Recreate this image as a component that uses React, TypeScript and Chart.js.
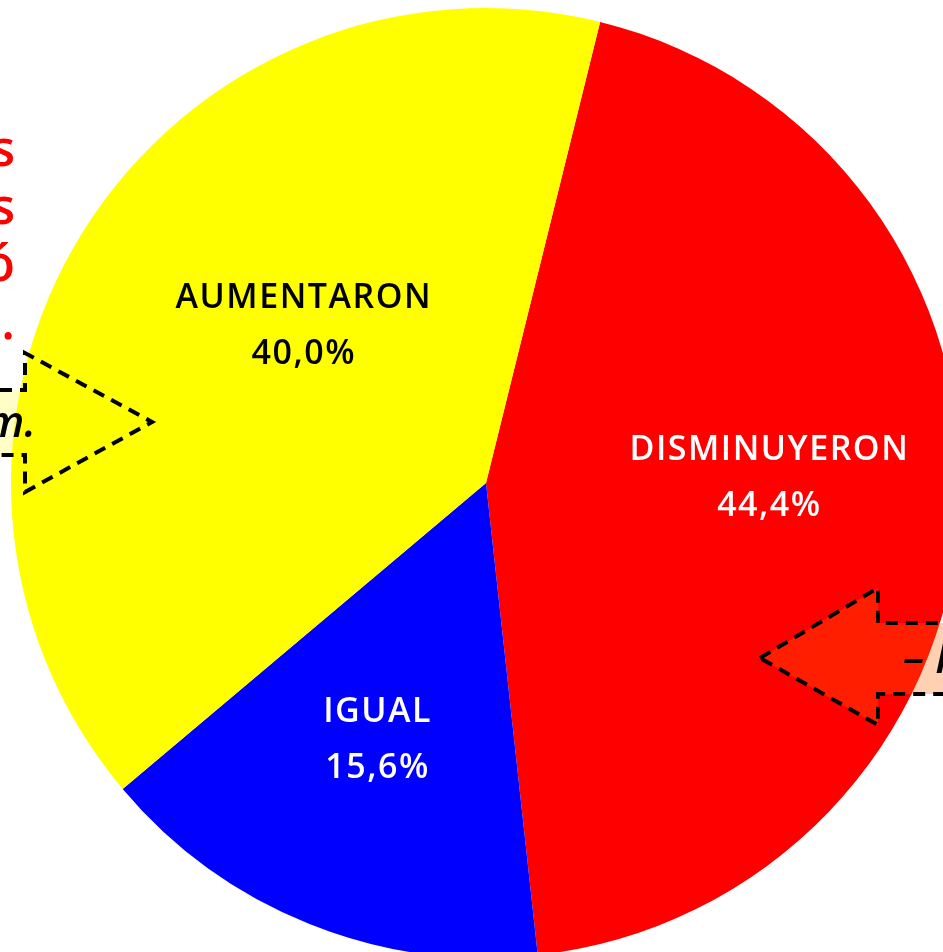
import React, { useEffect, useRef } from "react";
import { Chart, registerables } from "chart.js";

Chart.register(...registerables);

// ---- data ----
const categories = ["DISMINUYERON", "IGUAL", "AUMENTARON"];
const values = [44.4, 15.6, 40.0];
const sliceColors = ["#ff0000", "#0000ff", "#ffff00"];
const labelColors = ["#ffffff", "#ffffff", "#000000"];
const noteLines = [
  "El 44,4% de los hogares",
  "encuestados señalan que sus ingresos",
  "disminuyó",
  "en los últimos meses.",
];
const leftCalloutText = "Encuesta realizada a las 10 a.m.";
const rightCalloutText = "– hasta el mes anterior";

const fmtPct = (v: number) => v.toFixed(1).replace(".", ",") + "%";

const sliceLabels = {
  id: "sliceLabels",
  afterDatasetsDraw(chart: any, _args: any, opts: any) {
    const ctx = chart.ctx as CanvasRenderingContext2D;
    const meta = chart.getDatasetMeta(0);
    meta.data.forEach((arc: any, i: number) => {
      const p = arc.getProps(["x", "y", "startAngle", "endAngle", "outerRadius"], true);
      const mid = (p.startAngle + p.endAngle) / 2;
      const r = p.outerRadius * opts.radiusFrac;
      const n = opts.nudges[i] || [0, 0];
      const cx = p.x + Math.cos(mid) * r + n[0];
      const cy = p.y + Math.sin(mid) * r + n[1];
      ctx.save();
      ctx.font = opts.font;
      (ctx as any).letterSpacing = opts.letterSpacing;
      ctx.fillStyle = labelColors[i];
      ctx.textAlign = "center";
      ctx.textBaseline = "middle";
      ctx.fillText(categories[i], cx + opts.spacingShift, cy - opts.lineGap / 2);
      ctx.fillText(fmtPct(values[i]), cx + opts.spacingShift, cy + opts.lineGap / 2);
      ctx.restore();
    });
  },
};

const callouts = {
  id: "callouts",
  afterDraw(chart: any, _args: any, opts: any) {
    const ctx = chart.ctx as CanvasRenderingContext2D;
    // red note text at left (clipped by page edge)
    ctx.save();
    ctx.font = opts.noteFont;
    ctx.fillStyle = "#ff0000";
    ctx.textAlign = "right";
    ctx.textBaseline = "alphabetic";
    noteLines.forEach((t, i) => {
      ctx.fillText(t, opts.noteX, opts.noteY0 + i * opts.noteGap);
    });
    ctx.restore();

    const drawArrow = (pts: number[][], fill: string) => {
      ctx.save();
      ctx.beginPath();
      pts.forEach((pt, i) => (i === 0 ? ctx.moveTo(pt[0], pt[1]) : ctx.lineTo(pt[0], pt[1])));
      ctx.closePath();
      ctx.fillStyle = fill;
      ctx.fill();
      ctx.setLineDash([12, 8]);
      ctx.lineWidth = 4;
      ctx.strokeStyle = "#000000";
      ctx.lineJoin = "miter";
      ctx.stroke();
      ctx.restore();
    };

    drawArrow(opts.leftArrow, "rgba(255,250,0,0.22)");
    drawArrow(opts.rightArrow, "rgba(255,100,0,0.3)");

    ctx.save();
    ctx.font = opts.calloutFont;
    ctx.fillStyle = "#000000";
    ctx.textBaseline = "alphabetic";
    ctx.textAlign = "right";
    ctx.fillText(leftCalloutText, opts.leftTextX, opts.leftTextY);
    ctx.textAlign = "left";
    ctx.fillText(rightCalloutText, opts.rightTextX, opts.rightTextY);
    ctx.restore();
  },
};

export default function App() {
  const ref = useRef<HTMLCanvasElement | null>(null);

  useEffect(() => {
    if (!ref.current) return;
    const chart = new Chart(ref.current, {
      type: "pie",
      data: {
        labels: categories,
        datasets: [
          {
            data: values,
            backgroundColor: sliceColors,
            borderWidth: 0,
            hoverOffset: 0,
          },
        ],
      },
      options: {
        animation: false,
        responsive: true,
        maintainAspectRatio: false,
        rotation: 13.9,
        layout: { padding: { left: 11, top: 8, right: 0, bottom: 0 } },
        events: [],
        plugins: {
          legend: { display: false },
          tooltip: { enabled: false },
          sliceLabels: {
            radiusFrac: 0.59,
            nudges: [
              [3, -23],
              [-5, -3],
              [55, -9],
            ],
            font: "600 34px 'Open Sans'",
            letterSpacing: "1.5px",
            spacingShift: 0.75,
            lineGap: 56,
          },
          callouts: {
            noteFont: "600 50px 'Open Sans'",
            noteX: 15,
            noteY0: 166,
            noteGap: 57.7,
            leftArrow: [
              [-20, 390],
              [25, 390],
              [25, 353],
              [152, 422],
              [25, 492],
              [25, 455],
              [-20, 455],
            ],
            rightArrow: [
              [760, 658],
              [878, 588],
              [878, 623],
              [990, 623],
              [990, 694],
              [878, 694],
              [878, 725],
            ],
            calloutFont: "italic 600 44px 'Open Sans'",
            leftTextX: 36,
            leftTextY: 437,
            rightTextX: 903,
            rightTextY: 673,
          },
        } as any,
      },
      plugins: [sliceLabels, callouts],
    });
    return () => chart.destroy();
  }, []);

  return (
    <div
      style={{
        position: "fixed",
        left: 0,
        top: 0,
        width: 943,
        height: 952,
        overflow: "hidden",
        background: "#ffffff",
      }}
    >
      <div style={{ position: "absolute", left: 0, top: 0, width: 961, height: 958 }}>
        <canvas ref={ref} />
      </div>
    </div>
  );
}
